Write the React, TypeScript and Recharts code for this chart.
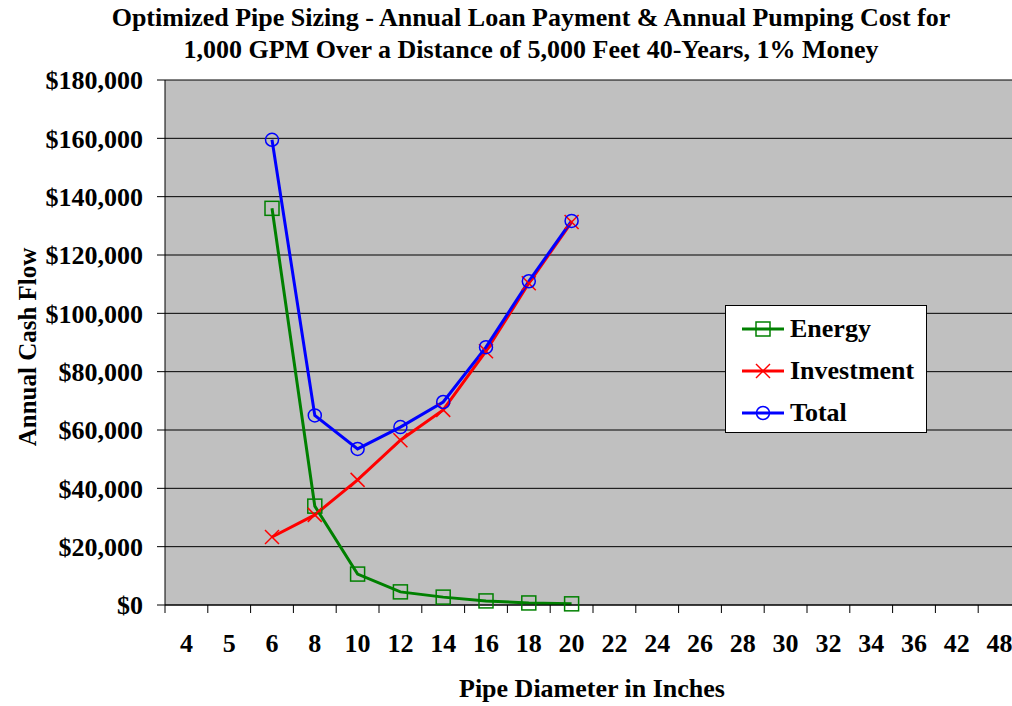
import React from "react";
import {
  LineChart,
  Line,
  XAxis,
  YAxis,
  CartesianGrid,
  Legend,
  Label,
} from "recharts";

// pipe diameters (inches) shown on the category axis
const categories = ["4", "5", "6", "8", "10", "12", "14", "16", "18", "20", "22", "24", "26", "28", "30", "32", "34", "36", "42", "48"];

// annual cash flow, $ (null = no value for that size)
const energy = [null, null, 136000, 33900, 10600, 4500, 2700, 1400, 700, 400, null, null, null, null, null, null, null, null, null, null];
const investment = [null, null, 23300, 30900, 42900, 56500, 66900, 87000, 110300, 131300, null, null, null, null, null, null, null, null, null, null];
const total = [null, null, 159500, 65000, 53500, 61000, 69600, 88400, 111000, 131700, null, null, null, null, null, null, null, null, null, null];

const yTicks = [0, 20000, 40000, 60000, 80000, 100000, 120000, 140000, 160000, 180000];

const chartData = categories.map((c, i) => ({
  size: c,
  energy: energy[i],
  investment: investment[i],
  total: total[i],
}));

const FONT = "'Liberation Serif', 'Times New Roman', serif";
const W = 1012;
const H = 706;
// the plot area runs a little past the right edge of the picture (as in the original)
const CHART_W = 1024;
const PLOT_L = 165;
const PLOT_R = 1021;
const PLOT_T = 80;
const PLOT_B = 605;
const BAND = (PLOT_R - PLOT_L) / categories.length;

const GREEN = "#008000";
const RED = "#ff0000";
const BLUE = "#0000ff";

const SquareDot = (p: any) => {
  if (p.value == null || p.cx == null) return <g key={p.key} />;
  return <rect key={p.key} x={p.cx - 7} y={p.cy - 7} width={14} height={14} fill="none" stroke={GREEN} strokeWidth={1.5} />;
};

const CrossDot = (p: any) => {
  if (p.value == null || p.cx == null) return <g key={p.key} />;
  return (
    <g key={p.key} stroke={RED} strokeWidth={1.5}>
      <line x1={p.cx - 7} y1={p.cy - 7} x2={p.cx + 7} y2={p.cy + 7} />
      <line x1={p.cx - 7} y1={p.cy + 7} x2={p.cx + 7} y2={p.cy - 7} />
    </g>
  );
};

const CircleDot = (p: any) => {
  if (p.value == null || p.cx == null) return <g key={p.key} />;
  return <circle key={p.key} cx={p.cx} cy={p.cy} r={6.5} fill="none" stroke={BLUE} strokeWidth={1.5} />;
};

// excel style: labels centred in band, tick marks on band edges
const XTick = (p: any) => {
  const { x, payload } = p;
  const left = x - BAND / 2;
  return (
    <g>
      <line x1={left} y1={PLOT_B} x2={left} y2={PLOT_B + 8} stroke="#000" />
      <text x={x} y={652} textAnchor="middle" fontFamily={FONT} fontWeight="bold" fontSize={26} fill="#000">
        {payload.value}
      </text>
    </g>
  );
};

const legendItems = [
  { name: "Energy", color: GREEN, kind: "square" },
  { name: "Investment", color: RED, kind: "cross" },
  { name: "Total", color: BLUE, kind: "circle" },
];

const LegendBox = () => (
  <div
    style={{
      width: 202,
      height: 128,
      background: "#fff",
      border: "1px solid #000",
      boxSizing: "border-box",
      paddingTop: 2,
      fontFamily: FONT,
      fontWeight: "bold",
      fontSize: 26,
    }}
  >
    {legendItems.map((it) => (
      <div key={it.name} style={{ display: "flex", alignItems: "center", height: 42 }}>
        <svg width={48} height={20} style={{ marginLeft: 14, flex: "none" }}>
          <line x1={2} y1={10} x2={44} y2={10} stroke={it.color} strokeWidth={3} />
          {it.kind === "square" && <rect x={16} y={3} width={14} height={14} fill="none" stroke={it.color} strokeWidth={1.5} />}
          {it.kind === "cross" && (
            <g stroke={it.color} strokeWidth={1.5}>
              <line x1={16} y1={3} x2={30} y2={17} />
              <line x1={16} y1={17} x2={30} y2={3} />
            </g>
          )}
          {it.kind === "circle" && <circle cx={23} cy={10} r={6.5} fill="none" stroke={it.color} strokeWidth={1.5} />}
        </svg>
        <span style={{ marginLeft: 2 }}>{it.name}</span>
      </div>
    ))}
  </div>
);

export default function App() {
  return (
    <div
      style={{
        position: "absolute",
        left: 0,
        top: 0,
        width: W,
        height: H,
        overflow: "hidden",
        background: "#fff",
        fontFamily: FONT,
      }}
    >
      <div
        style={{
          position: "absolute",
          left: 31,
          top: 2,
          width: 1000,
          textAlign: "center",
          fontWeight: "bold",
          fontSize: 26,
          lineHeight: "32px",
          zIndex: 2,
        }}
      >
        Optimized Pipe Sizing - Annual Loan Payment &amp; Annual Pumping Cost for
        <br />
        1,000 GPM Over a Distance of 5,000 Feet 40-Years, 1% Money
      </div>
      <LineChart width={CHART_W} height={H} data={chartData} margin={{ top: PLOT_T, right: CHART_W - PLOT_R, bottom: 0, left: 0 }}>
        <CartesianGrid vertical={false} stroke="#000" fill="#c0c0c0" strokeWidth={1} />
        <XAxis
          dataKey="size"
          type="category"
          height={H - PLOT_B}
          padding={{ left: BAND / 2, right: BAND / 2 }}
          axisLine={{ stroke: "#000", strokeWidth: 1 }}
          tickLine={false}
          tick={<XTick />}
          interval={0}
        >
          <Label
            content={() => (
              <text x={592} y={697} textAnchor="middle" fontFamily={FONT} fontWeight="bold" fontSize={26} fill="#000">
                Pipe Diameter in Inches
              </text>
            )}
          />
        </XAxis>
        <YAxis
          width={PLOT_L}
          domain={[0, 180000]}
          ticks={yTicks}
          interval={0}
          axisLine={{ stroke: "#000", strokeWidth: 1 }}
          tickLine={{ stroke: "#000" }}
          tickSize={8}
          tickMargin={14}
          tickFormatter={(v: number) => "$" + v.toLocaleString("en-US")}
          tick={{ fontFamily: FONT, fontWeight: "bold", fontSize: 26, fill: "#000" }}
        >
          <Label
            content={() => (
              <text
                x={27}
                y={347}
                transform="rotate(-90 27 347)"
                textAnchor="middle"
                dominantBaseline="central"
                fontFamily={FONT}
                fontWeight="bold"
                fontSize={25}
                fill="#000"
              >
                Annual Cash Flow
              </text>
            )}
          />
        </YAxis>
        <Legend
          layout="vertical"
          align="center"
          verticalAlign="middle"
          content={<LegendBox />}
          wrapperStyle={{ left: 725, top: 305, width: 202, height: 128 }}
        />
        <Line type="linear" dataKey="energy" name="Energy" stroke={GREEN} strokeWidth={3} dot={<SquareDot />} activeDot={false} isAnimationActive={false} />
        <Line type="linear" dataKey="investment" name="Investment" stroke={RED} strokeWidth={3} dot={<CrossDot />} activeDot={false} isAnimationActive={false} />
        <Line type="linear" dataKey="total" name="Total" stroke={BLUE} strokeWidth={3} dot={<CircleDot />} activeDot={false} isAnimationActive={false} />
      </LineChart>
    </div>
  );
}
